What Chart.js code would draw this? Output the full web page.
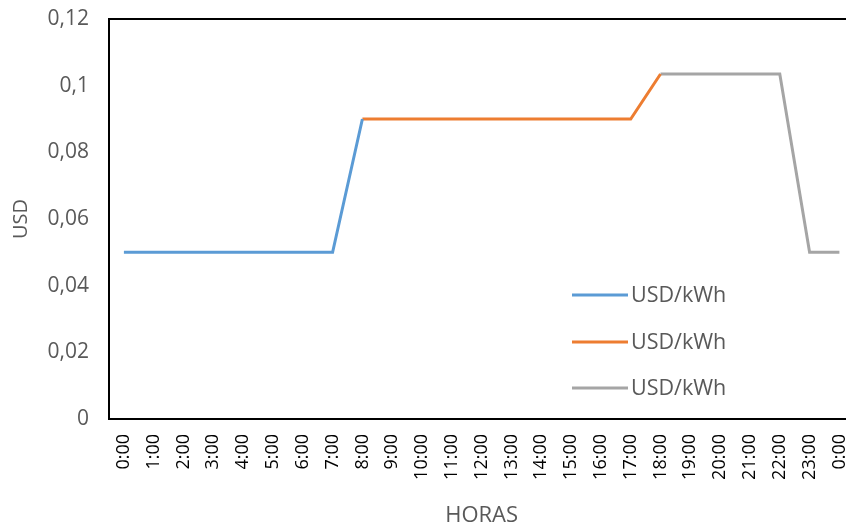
<!DOCTYPE html>
<html>
<head>
<meta charset="utf-8">
<script src="https://cdn.jsdelivr.net/npm/chart.js@4"></script>
<style>
  html, body { margin: 0; padding: 0; background: #fff; overflow: hidden; }
  #wrap { width: 861px; height: 531px; position: relative; }
</style>
</head>
<body>
<div id="wrap"><canvas id="c"></canvas></div>
<script>
// Hourly tariff, USD per kWh
const horas = ['0:00','1:00','2:00','3:00','4:00','5:00','6:00','7:00','8:00','9:00','10:00','11:00',
               '12:00','13:00','14:00','15:00','16:00','17:00','18:00','19:00','20:00','21:00','22:00','23:00','0:00'];

// off-peak period (0:00 - 8:00)
const tarifaBase = [0.05,0.05,0.05,0.05,0.05,0.05,0.05,0.05,0.09,
                    null,null,null,null,null,null,null,null,null,null,null,null,null,null,null,null];
// mid period (8:00 - 18:00)
const tarifaMedia = [null,null,null,null,null,null,null,null,
                     0.09,0.09,0.09,0.09,0.09,0.09,0.09,0.09,0.09,0.09,0.1035,
                     null,null,null,null,null,null];
// peak period (18:00 - 0:00)
const tarifaPunta = [null,null,null,null,null,null,null,null,null,null,null,null,null,null,null,null,null,null,
                     0.1035,0.1035,0.1035,0.1035,0.1035,0.05,0.05];

const etiquetas = ['USD/kWh','USD/kWh','USD/kWh'];
const yTicks = [0, 0.02, 0.04, 0.06, 0.08, 0.1, 0.12];

const colores = ['#5B9BD5', '#ED7D31', '#A5A5A5'];
const font = "'Open Sans', sans-serif";

// legend drawn inside the plot area
const legendaInterna = {
  id: 'legendaInterna',
  afterDraw(chart) {
    const ctx = chart.ctx;
    const x0 = 572, x1 = 628, ys = [295, 342, 388];
    ctx.save();
    chart.data.datasets.forEach((ds, i) => {
      ctx.strokeStyle = ds.borderColor;
      ctx.lineWidth = 3;
      ctx.beginPath();
      ctx.moveTo(x0, ys[i]);
      ctx.lineTo(x1, ys[i]);
      ctx.stroke();
      ctx.fillStyle = '#595959';
      ctx.font = '21.5px ' + font;
      ctx.textBaseline = 'middle';
      ctx.textAlign = 'left';
      ctx.fillText(ds.label, x1 + 3, ys[i] + 1);
    });
    ctx.restore();
  }
};

// black frame around the plot area
const marco = {
  id: 'marco',
  afterDraw(chart) {
    const a = chart.chartArea, ctx = chart.ctx;
    ctx.save();
    ctx.strokeStyle = '#000';
    ctx.lineWidth = 2;
    ctx.strokeRect(a.left, a.top, a.right - a.left, a.bottom - a.top);
    ctx.restore();
  }
};

new Chart(document.getElementById('c'), {
  type: 'line',
  data: {
    labels: horas,
    datasets: [
      { label: etiquetas[0], data: tarifaBase },
      { label: etiquetas[1], data: tarifaMedia },
      { label: etiquetas[2], data: tarifaPunta }
    ].map((d, i) => Object.assign(d, {
      borderColor: colores[i], backgroundColor: colores[i],
      borderWidth: 3, pointRadius: 0, tension: 0, spanGaps: false,
      borderJoinStyle: 'miter', borderCapStyle: 'butt'
    }))
  },
  options: {
    responsive: true,
    maintainAspectRatio: false,
    animation: false,
    layout: { padding: { top: 19, right: 0, bottom: 0, left: 0 } },
    plugins: { legend: { display: false }, tooltip: { enabled: false } },
    scales: {
      x: {
        offset: true,
        // tick marks hidden; tickLength only spaces the labels from the frame
        grid: { display: false, drawTicks: true, tickLength: 15 },
        border: { display: false },
        ticks: {
          minRotation: 90, maxRotation: 90, autoSkip: false, padding: 0,
          color: '#000', font: { family: font, size: 18 }
        },
        title: {
          display: true, text: 'HORAS', color: '#595959',
          font: { family: font, size: 22 }, padding: { top: 0, bottom: 2 }
        },
        afterFit(s) { s.height = 112; }
      },
      y: {
        min: 0, max: 0.12,
        afterBuildTicks(s) { s.ticks = yTicks.map(v => ({ value: v })); },
        grid: { display: false, drawTicks: true, tickLength: 20 },
        border: { display: false },
        ticks: {
          padding: 0, color: '#595959', font: { family: font, size: 21 },
          callback: v => String(Math.round(v * 100) / 100).replace('.', ',')
        },
        title: {
          display: true, text: 'USD', color: '#595959',
          font: { family: font, size: 20 }, padding: { top: 9, bottom: 0 }
        },
        afterFit(s) { s.width = 109; }
      }
    }
  },
  plugins: [marco, legendaInterna]
});
</script>
</body>
</html>
